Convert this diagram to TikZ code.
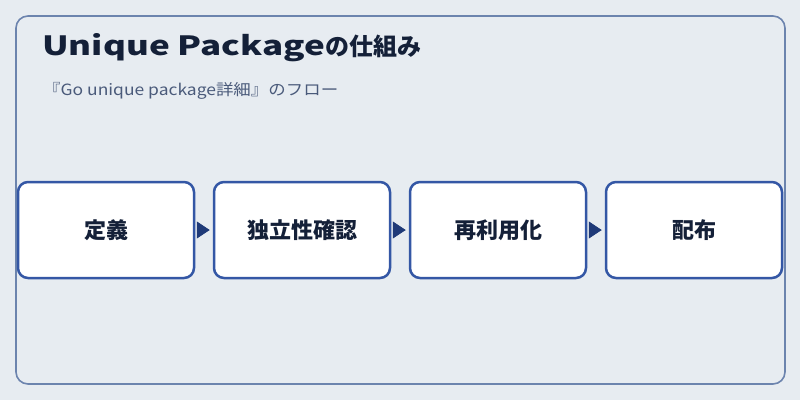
\documentclass[tikz,border=0pt]{standalone}
\usepackage{fontspec}
\usepackage{graphicx}
\setmainfont{Noto Sans CJK JP}
\usetikzlibrary{arrows.meta}

\definecolor{bgcol}{HTML}{E7ECF1}
\definecolor{framecol}{HTML}{6C84AE}
\definecolor{boxcol}{HTML}{3457A5}
\definecolor{arrowcol}{HTML}{1F3A78}
\definecolor{titlecol}{HTML}{142038}
\definecolor{subcol}{HTML}{4A5A7A}

\tikzset{
    flowbox/.style={draw=boxcol, fill=white, line width=2.5pt, rounded corners=10pt,
        minimum width=176pt, minimum height=96pt, inner sep=0pt,
        font=\fontsize{22}{26}\selectfont\bfseries, text=titlecol},
    flowarrow/.style={-{Triangle[length=13pt,width=17pt]}, draw=arrowcol, fill=arrowcol,
        line width=0.8pt, shorten <=2pt, shorten >=3pt}
}

\begin{document}
\begin{tikzpicture}[x=1pt, y=-1pt]

    % Background and frame
    \fill[bgcol] (0, 0) rectangle (800, 400);
    \useasboundingbox (0, 0) rectangle (800, 400);
    \draw[framecol, line width=1.6pt, rounded corners=12pt] (16, 16) rectangle (785, 384);

    % Title and subtitle
    \node[anchor=base west, inner sep=0pt, text=titlecol, font=\bfseries] (label_title) at (42, 55)
        {\resizebox{283pt}{\height}{\fontsize{26.5}{30}\selectfont Unique Package}\fontsize{24}{28}\selectfont の仕組み};
    \node[anchor=base west, inner sep=0pt, text=subcol, font=\fontsize{15.5}{19}\selectfont] (label_sub) at (43, 95)
        {\resizebox{295pt}{\height}{『Go unique package詳細』のフロー}};

    % Flow steps
    \node[flowbox] (b1) at (106, 230) {定義};
    \node[flowbox] (b2) at (302, 230) {独立性確認};
    \node[flowbox] (b3) at (498, 230) {再利用化};
    \node[flowbox] (b4) at (694, 230) {配布};

    % Arrows between steps
    \draw[flowarrow] (b1.east) -- (b2.west);
    \draw[flowarrow] (b2.east) -- (b3.west);
    \draw[flowarrow] (b3.east) -- (b4.west);

\end{tikzpicture}
\end{document}
